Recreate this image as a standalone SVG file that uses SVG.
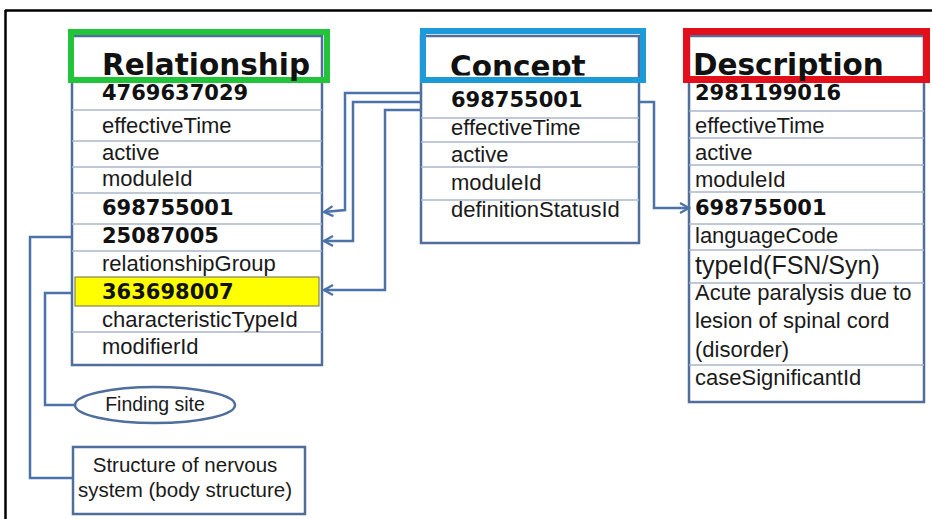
<svg xmlns="http://www.w3.org/2000/svg" width="932" height="519" viewBox="0 0 932 519">
<style>
.tbl{fill:#fff;stroke:#4f6e9c;stroke-width:2.5}
.row{stroke:#a8b6ca;stroke-width:1.5}
.t{font-family:"Liberation Sans",Arial,sans-serif;font-size:22px;fill:#1a1a1a}
.b{font-family:"DejaVu Sans",Verdana,sans-serif;font-weight:bold;font-size:21px;fill:#111}
.h{font-family:"DejaVu Sans",Verdana,sans-serif;font-weight:bold;font-size:29.5px;fill:#111}
.conn{fill:none;stroke:#4d72a8;stroke-width:2.5}
.shape{fill:#fff;stroke:#4f6e9c;stroke-width:2.5}
.s{font-family:"Liberation Sans",Arial,sans-serif;font-size:20.5px;fill:#1a1a1a}
</style>
<defs>
<marker id="arr" viewBox="0 0 12 12" refX="10" refY="6" markerWidth="12" markerHeight="12" markerUnits="userSpaceOnUse" orient="auto">
<path d="M1,1 L10,6 L1,11" fill="none" stroke="#4d72a8" stroke-width="2.2"/>
</marker>
<clipPath id="cclip"><rect x="420" y="28" width="230" height="47.5"/></clipPath>
</defs>
<rect x="0" y="0" width="932" height="519" fill="#fff"/>
<g id="frame">
<line x1="5" y1="10.5" x2="932" y2="10.5" stroke="#000" stroke-width="2.5"/>
<line x1="5.5" y1="10" x2="5.5" y2="519" stroke="#000" stroke-width="2.5"/>
</g>

<g id="relationship">
<rect class="tbl" x="72" y="36" width="250" height="329"/>
<line class="row" x1="72" y1="110" x2="322" y2="110"/>
<line class="row" x1="72" y1="141" x2="322" y2="141"/>
<line class="row" x1="72" y1="167" x2="322" y2="167"/>
<line class="row" x1="72" y1="193" x2="322" y2="193"/>
<line class="row" x1="72" y1="224" x2="322" y2="224"/>
<line class="row" x1="72" y1="251" x2="322" y2="251"/>
<line class="row" x1="72" y1="332" x2="322" y2="332"/>
<rect x="75" y="277" width="244" height="29" fill="#ffff00" stroke="#6b6b55" stroke-width="1"/>
<rect x="71" y="32" width="256" height="48" fill="none" stroke="#22c43a" stroke-width="6"/>
<text class="h" x="102" y="75">Relationship</text>
<text class="b" x="102" y="100">4769637029</text>
<text class="t" x="102" y="133">effectiveTime</text>
<text class="t" x="102" y="160">active</text>
<text class="t" x="102" y="186">moduleId</text>
<text class="b" x="102" y="215">698755001</text>
<text class="b" x="102" y="243">25087005</text>
<text class="t" x="102" y="271">relationshipGroup</text>
<text class="b" x="102" y="299">363698007</text>
<text class="t" x="102" y="327">characteristicTypeId</text>
<text class="t" x="102" y="354">modifierId</text>
</g>

<g id="concept">
<rect class="tbl" x="421" y="36" width="218" height="207"/>
<line class="row" x1="421" y1="118" x2="639" y2="118"/>
<line class="row" x1="421" y1="142" x2="639" y2="142"/>
<line class="row" x1="421" y1="167" x2="639" y2="167"/>
<line class="row" x1="421" y1="200" x2="639" y2="200"/>
<text class="h" x="450" y="77" clip-path="url(#cclip)">Concept</text>
<rect x="423" y="31" width="220" height="49" fill="none" stroke="#1d9ad8" stroke-width="6"/>
<text class="b" x="451" y="107">698755001</text>
<text class="t" x="451" y="135">effectiveTime</text>
<text class="t" x="451" y="162">active</text>
<text class="t" x="451" y="190">moduleId</text>
<text class="t" x="451" y="217">definitionStatusId</text>
</g>

<g id="description">
<rect class="tbl" x="689" y="36" width="235" height="366"/>
<line class="row" x1="689" y1="111" x2="924" y2="111"/>
<line class="row" x1="689" y1="138" x2="924" y2="138"/>
<line class="row" x1="689" y1="165" x2="924" y2="165"/>
<line class="row" x1="689" y1="192" x2="924" y2="192"/>
<line class="row" x1="689" y1="224" x2="924" y2="224"/>
<line class="row" x1="689" y1="250" x2="924" y2="250"/>
<line class="row" x1="689" y1="283" x2="924" y2="283"/>
<line class="row" x1="689" y1="365" x2="924" y2="365"/>
<rect x="686.5" y="31.5" width="240" height="48" fill="none" stroke="#e3101b" stroke-width="7"/>
<text class="h" x="693" y="75">Description</text>
<text class="b" x="695" y="100">2981199016</text>
<text class="t" x="695" y="133">effectiveTime</text>
<text class="t" x="695" y="160">active</text>
<text class="t" x="695" y="187">moduleId</text>
<text class="b" x="695" y="215">698755001</text>
<text class="t" x="695" y="243">languageCode</text>
<text class="t" x="695" y="274" style="font-size:25px">typeId(FSN/Syn)</text>
<text class="t" x="695" y="300">Acute paralysis due to</text>
<text class="t" x="695" y="328">lesion of spinal cord</text>
<text class="t" x="695" y="357">(disorder)</text>
<text class="t" x="695" y="385">caseSignificantId</text>
</g>

<g id="finding-site">
<ellipse class="shape" cx="155" cy="405" rx="80" ry="18"/>
<text class="s" x="155" y="411" text-anchor="middle" style="font-size:19.5px">Finding site</text>
</g>

<g id="body-structure">
<rect class="shape" x="73" y="447" width="232" height="67"/>
<text class="s" x="185" y="472" text-anchor="middle">Structure of nervous</text>
<text class="s" x="185" y="497" text-anchor="middle">system (body structure)</text>
</g>

<g id="connectors">
<path class="conn" d="M421,93 H345 V210 L324,212" marker-end="url(#arr)"/>
<path class="conn" d="M421,102 H353 V241 H324" marker-end="url(#arr)"/>
<path class="conn" d="M421,110 H385 V290 H324" marker-end="url(#arr)"/>
<path class="conn" d="M639,102 H654 V208 H689" marker-end="url(#arr)"/>
<path class="conn" d="M72,237 H30 V478 H73"/>
<path class="conn" d="M72,293 H45 V405 H75"/>
</g>
</svg>
